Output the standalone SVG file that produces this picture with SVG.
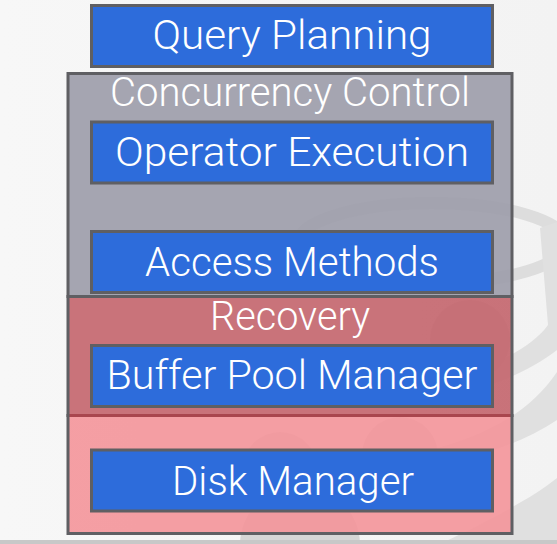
<svg xmlns="http://www.w3.org/2000/svg" width="557" height="544" viewBox="0 0 557 544">
  <defs>
    <linearGradient id="bg" x1="0" y1="0" x2="1" y2="0">
      <stop offset="0" stop-color="#f7f7f7"/>
      <stop offset="1" stop-color="#f3f3f3"/>
    </linearGradient>
  </defs>
  <style>
    .blue { fill: #2d6cdb; stroke: #5f5f63; stroke-width: 3; }
    .lbl { font-family: "Roboto Light", "Lato Light", "Open Sans Light", Roboto, "Liberation Sans", sans-serif; font-weight: 300; font-size: 40px; fill: #ffffff; text-anchor: middle; }
    .wm { fill: none; stroke: #dddddd; }
  </style>
  <rect x="0" y="0" width="557" height="544" fill="url(#bg)"/>
  <!-- watermark -->
  <g id="watermark">
    <ellipse class="wm" cx="432" cy="243" rx="134" ry="40" stroke-width="12"/>
    <path d="M 540 228 L 557 222 L 557 350 C 525 375 480 392 420 402 L 418 388 C 485 372 530 350 548 325 Z" fill="#e0e0e0"/>
    <path d="M 557 372 L 557 420 C 520 445 470 460 410 470 L 408 455 C 470 442 525 420 557 372 Z" fill="#e0e0e0"/>
    <path d="M 440 544 C 480 525 530 500 557 478 L 557 544 Z" fill="#e0e0e0"/>
    <circle cx="280" cy="470" r="38" fill="#d6d6d6"/>
    <circle cx="400" cy="455" r="38" fill="#d6d6d6"/>
    <circle cx="300" cy="545" r="60" fill="#d6d6d6"/>
    <circle cx="470" cy="340" r="40" fill="#d6d6d6"/>
  </g>
  <g id="concurrency-control">
    <rect x="68" y="73.5" width="444" height="223" fill="#9e9eab" fill-opacity="0.93" stroke="#5f5f63" stroke-width="3"/>
    <text class="lbl" x="290" y="106" textLength="360" lengthAdjust="spacingAndGlyphs">Concurrency Control</text>
  </g>
  <g id="recovery">
    <rect x="68" y="296.5" width="444" height="119" fill="#c4676f" fill-opacity="0.92" stroke="#5f5f63" stroke-width="3"/>
    <text class="lbl" x="290" y="330" textLength="160" lengthAdjust="spacingAndGlyphs">Recovery</text>
  </g>
  <g id="storage">
    <rect x="68" y="415.5" width="444" height="118" fill="#f4959a" fill-opacity="0.9" stroke="#5f5f63" stroke-width="3"/>
    <line x1="69.5" y1="415.5" x2="510.5" y2="415.5" stroke="#a9464e" stroke-width="3"/>
  </g>
  <g id="query-planning">
    <rect x="91.5" y="5.5" width="401" height="61" class="blue"/>
    <text class="lbl" x="292" y="49" textLength="279" lengthAdjust="spacingAndGlyphs">Query Planning</text>
  </g>
  <g id="operator-execution">
    <rect x="91.5" y="122" width="401" height="61" class="blue"/>
    <text class="lbl" x="292" y="166" textLength="354" lengthAdjust="spacingAndGlyphs">Operator Execution</text>
  </g>
  <g id="access-methods">
    <rect x="91.5" y="231.5" width="401" height="61" class="blue"/>
    <text class="lbl" x="292" y="276" textLength="294" lengthAdjust="spacingAndGlyphs">Access Methods</text>
  </g>
  <g id="buffer-pool-manager">
    <rect x="91.5" y="345.5" width="401" height="61" class="blue"/>
    <text class="lbl" x="292" y="389" textLength="371" lengthAdjust="spacingAndGlyphs">Buffer Pool Manager</text>
  </g>
  <g id="disk-manager">
    <rect x="91.5" y="450" width="401" height="61" class="blue"/>
    <text class="lbl" x="293" y="495" textLength="242" lengthAdjust="spacingAndGlyphs">Disk Manager</text>
  </g>
  <g id="connectors"></g>
  <rect x="0" y="540" width="557" height="4" fill="#c8c8c8"/>
</svg>
